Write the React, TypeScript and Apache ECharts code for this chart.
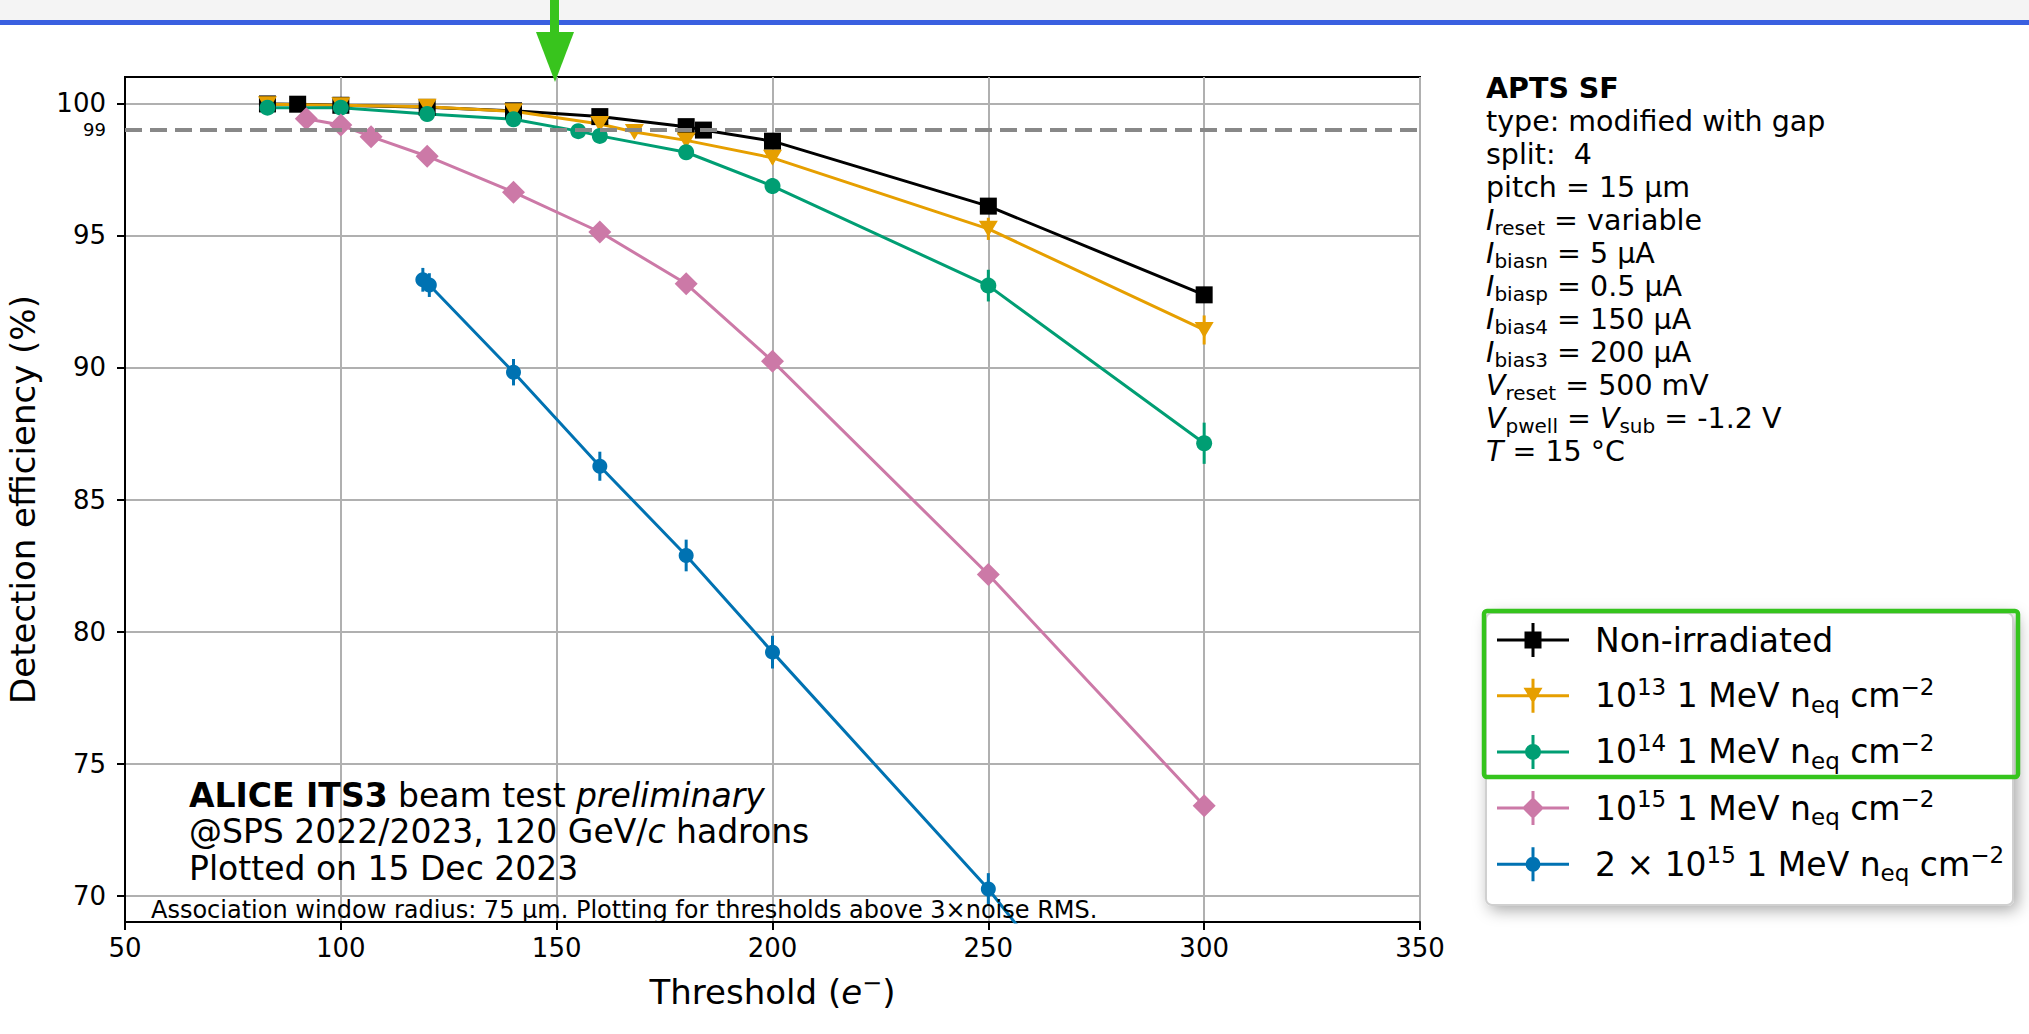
import React, { useEffect, useRef } from 'react';
import * as echarts from 'echarts';

const W = 2029;
const H = 1034;
const FONT = 'DejaVu Sans';

// ---- axes ----
const xTicks = [50, 100, 150, 200, 250, 300, 350];
const yTicks = [70, 75, 80, 85, 90, 95, 100];
const xMin = 50, xMax = 350, yMin = 69, yMax = 101;
const refLine = 99;

// ---- data (threshold e-, efficiency %, error %) ----
const xNonIrr = [83, 90, 100, 120, 140, 160, 180, 184, 200, 250, 300];
const yNonIrr = [99.98, 99.97, 99.93, 99.85, 99.72, 99.5, 99.12, 98.99, 98.57, 96.11, 92.75];
const eNonIrr = [0.03, 0.03, 0.04, 0.05, 0.06, 0.08, 0.1, 0.1, 0.12, 0.18, 0.25];

const x1e13 = [83, 100, 120, 140, 160, 168, 180, 200, 250, 300];
const y1e13 = [99.97, 99.93, 99.87, 99.7, 99.22, 98.92, 98.6, 97.94, 95.25, 91.42];
const e1e13 = [0.04, 0.05, 0.07, 0.1, 0.13, 0.15, 0.18, 0.22, 0.42, 0.55];

const x1e14 = [83, 100, 120, 140, 155, 160, 180, 200, 250, 300];
const y1e14 = [99.84, 99.84, 99.6, 99.4, 98.95, 98.77, 98.15, 96.87, 93.1, 87.13];
const e1e14 = [0.05, 0.06, 0.08, 0.12, 0.15, 0.16, 0.22, 0.3, 0.6, 0.78];

const x1e15 = [92, 100, 107, 120, 140, 160, 180, 200, 250, 300];
const y1e15 = [99.42, 99.18, 98.74, 98.0, 96.64, 95.13, 93.17, 90.24, 82.16, 73.4];
const e1e15 = [0.1, 0.1, 0.12, 0.15, 0.2, 0.22, 0.25, 0.28, 0.33, 0.35];

const x2e15 = [119, 120.5, 140, 160, 180, 200, 250, 300];
const y2e15 = [93.32, 93.12, 89.82, 86.26, 82.88, 79.22, 70.25, 59.9];
const e2e15 = [0.45, 0.45, 0.5, 0.55, 0.6, 0.62, 0.6, 0.7];

const seriesNames = [
  'Non-irradiated',
  '10^13 1 MeV neq cm^-2',
  '10^14 1 MeV neq cm^-2',
  '10^15 1 MeV neq cm^-2',
  '2x10^15 1 MeV neq cm^-2',
];
const legendLabels = [
  '{g| }{n|Non-irradiated}',
  '{g| }{n|10}{sup|13}{n| 1 MeV n}{sub|eq}{n| cm}{sup|−2}',
  '{g| }{n|10}{sup|14}{n| 1 MeV n}{sub|eq}{n| cm}{sup|−2}',
  '{g| }{n|10}{sup|15}{n| 1 MeV n}{sub|eq}{n| cm}{sup|−2}',
  '{g| }{n|2 × 10}{sup|15}{n| 1 MeV n}{sub|eq}{n| cm}{sup|−2}',
];
const colors = ['#000000', '#E69F00', '#009E73', '#CC79A7', '#0072B2'];

const infoLines = [
  '{b|APTS SF}',
  '{n|type: modified with gap}',
  '{n|split:  4}',
  '{n|pitch = 15 µm}',
  '{i|I}{s|reset}{n| = variable}',
  '{i|I}{s|biasn}{n| = 5 µA}',
  '{i|I}{s|biasp}{n| = 0.5 µA}',
  '{i|I}{s|bias4}{n| = 150 µA}',
  '{i|I}{s|bias3}{n| = 200 µA}',
  '{i|V}{s|reset}{n| = 500 mV}',
  '{i|V}{s|pwell}{n| = }{i|V}{s|sub}{n| = -1.2 V}',
  '{i|T}{n| = 15 °C}',
];
const aliceLines = [
  '{b|ALICE ITS3}{n| beam test }{i|preliminary}',
  '{n|@SPS 2022/2023, 120 GeV/}{i|c}{n| hadrons}',
  '{n|Plotted on 15 Dec 2023}',
];
const assocText = 'Association window radius: 75 µm. Plotting for thresholds above 3×noise RMS.';

// legend icons: horizontal line + vertical error bar + marker (72 x 34 box)
const hBar = 'M0 15.5 h72 v3 h-72 Z ';
const vBar = 'M34.5 0 h3 v34 h-3 Z ';
const legendIcons = [
  'path://' + hBar + vBar + 'M27.5 8.5 h17 v17 h-17 Z',
  'path://' + hBar + vBar + 'M26.5 9 L45.5 9 L36 25 Z',
  'path://' + hBar + vBar + 'M28 17 A8 8 0 1 1 44 17 A8 8 0 1 1 28 17 Z',
  'path://' + hBar + vBar + 'M36 6 L47 17 L36 28 L25 17 Z',
  'path://' + hBar + vBar + 'M28.5 17 A7.5 7.5 0 1 1 43.5 17 A7.5 7.5 0 1 1 28.5 17 Z',
];

const markers: any[] = [
  { symbol: 'rect', symbolSize: 17, symbolRotate: 0 },
  { symbol: 'triangle', symbolSize: [19, 16], symbolRotate: 180 },
  { symbol: 'circle', symbolSize: 16, symbolRotate: 0 },
  { symbol: 'diamond', symbolSize: [23, 23], symbolRotate: 0 },
  { symbol: 'circle', symbolSize: 15, symbolRotate: 0 },
];

const datasets = [
  [xNonIrr, yNonIrr, eNonIrr],
  [x1e13, y1e13, e1e13],
  [x1e14, y1e14, e1e14],
  [x1e15, y1e15, e1e15],
  [x2e15, y2e15, e2e15],
];

function buildOption(): any {
  const series: any[] = [
    {
      type: 'line',
      name: 'ref99',
      data: [[xMin, refLine]],
      symbol: 'none',
      lineStyle: { opacity: 0 },
      z: 1,
      silent: true,
      markLine: {
        silent: true,
        symbol: 'none',
        data: [{ yAxis: refLine }],
        lineStyle: { color: '#888888', width: 4, type: [17, 8] },
        label: {
          show: true,
          position: 'start',
          formatter: String(refLine),
          fontSize: 18,
          color: '#000',
          fontFamily: FONT,
          distance: 19,
        },
        animation: false,
      },
    },
  ];

  datasets.forEach(([xs, ys, es], k) => {
    const color = colors[k];
    series.push({
      type: 'custom',
      name: seriesNames[k] + ' error',
      clip: true,
      silent: true,
      z: 3,
      data: xs.map((x, i) => [x, ys[i], es[i]]),
      encode: { x: 0, y: 1 },
      renderItem: (params: any, api: any) => {
        const x = api.value(0);
        const y = api.value(1);
        const e = api.value(2);
        const p1 = api.coord([x, y - e]);
        const p2 = api.coord([x, y + e]);
        return {
          type: 'line',
          shape: { x1: p1[0], y1: p1[1], x2: p2[0], y2: p2[1] },
          style: { stroke: color, lineWidth: 3 },
        };
      },
    });
    series.push({
      type: 'line',
      name: seriesNames[k],
      data: xs.map((x, i) => [x, ys[i]]),
      symbol: markers[k].symbol,
      symbolSize: markers[k].symbolSize,
      symbolRotate: markers[k].symbolRotate,
      showSymbol: true,
      showAllSymbol: true,
      clip: true,
      z: 3,
      lineStyle: { color, width: 3 },
      itemStyle: { color, borderWidth: 0 },
      emphasis: { disabled: true },
    });
  });

  return {
    animation: false,
    backgroundColor: '#ffffff',
    textStyle: { fontFamily: FONT },
    grid: {
      left: 125,
      top: 77,
      width: 1295,
      height: 845,
      show: true,
      borderColor: '#000',
      borderWidth: 2,
      backgroundColor: '#fff',
      containLabel: false,
      outerBoundsMode: 'none',
    },
    xAxis: {
      type: 'value',
      min: xMin,
      max: xMax,
      interval: 50,
      name: 'Threshold ({i|e}{sup|−})',
      nameLocation: 'middle',
      nameGap: 50,
      nameTextStyle: {
        fontSize: 34,
        color: '#000',
        fontFamily: FONT,
        lineHeight: 40,
        rich: {
          i: { fontSize: 34, fontStyle: 'italic', color: '#000', fontFamily: FONT, lineHeight: 40 },
          sup: { fontSize: 24, color: '#000', fontFamily: FONT, lineHeight: 40, padding: [0, 0, 18, 0] },
        },
      },
      axisLine: { show: true, lineStyle: { color: '#000', width: 2 } },
      axisTick: { show: true, inside: false, length: 8, lineStyle: { color: '#000', width: 2 } },
      axisLabel: { fontSize: 26, color: '#000', margin: 13, fontFamily: FONT, customValues: xTicks },
      splitLine: { show: true, lineStyle: { color: '#b0b0b0', width: 2 } },
    },
    yAxis: {
      type: 'value',
      min: yMin,
      max: yMax,
      name: 'Detection efficiency (%)',
      nameLocation: 'middle',
      nameGap: 82,
      nameTextStyle: { fontSize: 34, color: '#000', fontFamily: FONT, lineHeight: 40 },
      axisLine: { show: true, lineStyle: { color: '#000', width: 2 } },
      axisTick: { show: true, inside: false, length: 8, lineStyle: { color: '#000', width: 2 }, customValues: yTicks },
      axisLabel: { fontSize: 26, color: '#000', margin: 19, fontFamily: FONT, customValues: yTicks },
      splitLine: { show: true, lineStyle: { color: '#b0b0b0', width: 2 } },
    },
    legend: {
      orient: 'vertical',
      left: 1497,
      top: 620,
      padding: 0,
      itemGap: 15.2,
      itemWidth: 72,
      itemHeight: 34,
      selectedMode: false,
      z: 5,
      data: seriesNames.map((n, i) => ({ name: n, icon: legendIcons[i] })),
      formatter: (name: string) => legendLabels[seriesNames.indexOf(name)],
      itemStyle: { borderWidth: 0 },
      textStyle: {
        fontSize: 33,
        color: '#000',
        fontFamily: FONT,
        lineHeight: 40,
        rich: {
          g: { width: 21, lineHeight: 40 },
          n: { fontSize: 33, color: '#000', fontFamily: FONT, lineHeight: 40 },
          sup: { fontSize: 23, color: '#000', fontFamily: FONT, lineHeight: 40, padding: [0, 0, 18, 0] },
          sub: { fontSize: 23, color: '#000', fontFamily: FONT, lineHeight: 40, padding: [18, 0, 0, 0] },
        },
      },
    },
    graphic: [
      {
        type: 'rect',
        z: 0,
        shape: { x: 0, y: 0, width: W, height: 20 },
        style: { fill: '#f4f4f4' },
      },
      {
        type: 'rect',
        z: 1,
        shape: { x: 0, y: 20, width: W, height: 5 },
        style: { fill: '#3a60e0' },
      },
      {
        type: 'rect',
        z: 20,
        shape: { x: 550, y: 0, width: 9, height: 34 },
        style: { fill: '#38c41d' },
      },
      {
        type: 'polygon',
        z: 20,
        shape: { points: [[536, 32], [574, 32], [555, 82]] },
        style: { fill: '#38c41d' },
      },
      {
        type: 'rect',
        z: 3,
        shape: { x: 1486, y: 613, width: 527, height: 292, r: 6 },
        style: {
          fill: '#ffffff',
          stroke: '#d0d0d0',
          lineWidth: 2,
          shadowBlur: 16,
          shadowColor: 'rgba(0,0,0,0.35)',
          shadowOffsetX: 4,
          shadowOffsetY: 4,
        },
      },
      {
        type: 'rect',
        z: 20,
        shape: { x: 1484, y: 611, width: 534, height: 166, r: 3 },
        style: { fill: 'none', stroke: '#35c41d', lineWidth: 4.5 },
      },
      {
        type: 'text',
        z: 10,
        x: 1486,
        y: 270,
        style: {
          text: infoLines.join('\n'),
          fontFamily: FONT,
          fontSize: 28.5,
          lineHeight: 33,
          fill: '#000',
          align: 'left',
          verticalAlign: 'middle',
          textAlign: 'left',
          textVerticalAlign: 'middle',
          rich: {
            b: { fontSize: 28.5, fontWeight: 'bold', fontFamily: FONT, fill: '#000', lineHeight: 33 },
            n: { fontSize: 28.5, fontFamily: FONT, fill: '#000', lineHeight: 33 },
            i: { fontSize: 28.5, fontStyle: 'italic', fontFamily: FONT, fill: '#000', lineHeight: 33 },
            s: { fontSize: 20, fontFamily: FONT, fill: '#000', lineHeight: 33, padding: [14, 0, 0, 0] },
          },
        },
      },
      {
        type: 'text',
        z: 10,
        x: 189,
        y: 831.7,
        style: {
          text: aliceLines.join('\n'),
          fontFamily: FONT,
          fontSize: 33,
          lineHeight: 36.7,
          fill: '#000',
          align: 'left',
          verticalAlign: 'middle',
          textAlign: 'left',
          textVerticalAlign: 'middle',
          rich: {
            b: { fontSize: 33, fontWeight: 'bold', fontFamily: FONT, fill: '#000', lineHeight: 36.7 },
            n: { fontSize: 33, fontFamily: FONT, fill: '#000', lineHeight: 36.7 },
            i: { fontSize: 33, fontStyle: 'italic', fontFamily: FONT, fill: '#000', lineHeight: 36.7 },
          },
        },
      },
      {
        type: 'text',
        z: 10,
        x: 151,
        y: 910,
        style: {
          text: assocText,
          fontFamily: FONT,
          fontSize: 24,
          fill: '#000',
          align: 'left',
          verticalAlign: 'middle',
          textAlign: 'left',
          textVerticalAlign: 'middle',
        },
      },
    ],
    series,
  };
}

export default function App() {
  const ref = useRef<HTMLDivElement>(null);
  useEffect(() => {
    document.body.style.margin = '0';
    if (!ref.current) return;
    const chart = echarts.init(ref.current, undefined, { renderer: 'svg' });
    chart.setOption(buildOption());
    return () => {
      chart.dispose();
    };
  }, []);
  return <div ref={ref} style={{ width: W, height: H }} />;
}
